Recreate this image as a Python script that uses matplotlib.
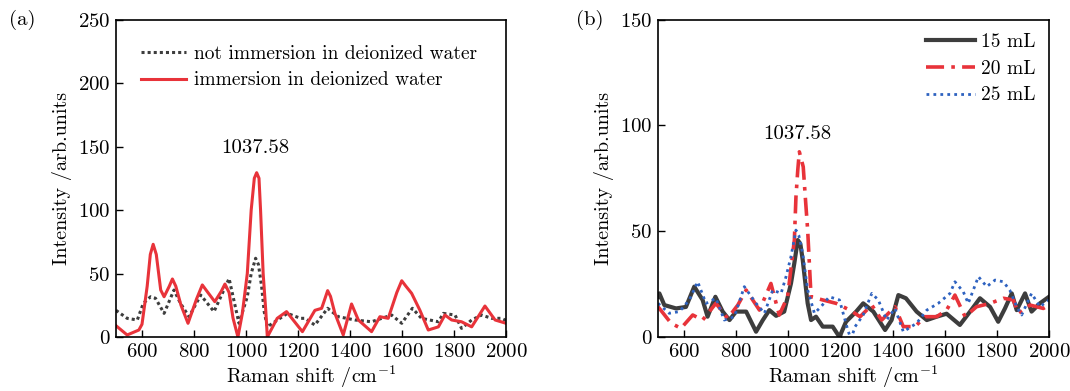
import numpy as np
import matplotlib
matplotlib.use("Agg")
import matplotlib.pyplot as plt

plt.rcParams['font.family'] = ['cmr10', 'DejaVu Serif']
plt.rcParams['mathtext.fontset'] = 'cm'
plt.rcParams['axes.formatter.use_mathtext'] = True
plt.rcParams['font.size'] = 15

# (a) spectra
xa_red = [500, 543, 588, 600, 620, 632, 643, 655, 672, 685, 705, 717, 730, 750, 777, 810,
          832, 850, 880, 905, 919, 935, 950, 969, 986, 1005, 1020, 1032, 1041, 1050, 1056,
          1066, 1076, 1082, 1120, 1156, 1217, 1265, 1291, 1300, 1314, 1325, 1342, 1374,
          1406, 1432, 1483, 1515, 1547, 1580, 1599, 1615, 1637, 1669, 1701, 1740, 1765,
          1791, 1829, 1868, 1919, 1958, 2000]
ya_red = [8.9, 1.6, 5.5, 10, 40, 65, 73, 65, 37, 31.7, 40, 45.7, 40, 25, 10.8, 30,
          41, 36, 27.8, 36, 41.7, 35, 15, 0, 18.6, 50, 100, 125, 129.4, 125, 100,
          50, 21, 0, 14.7, 20, 4.2, 21, 22.6, 28, 36.5, 32, 18.6, 1.6,
          26, 13.4, 4.2, 16, 14.7, 35, 44.3, 40, 34.4, 21, 5.5, 8, 17.3,
          13.4, 12, 8, 24.4, 13.4, 10.8]

xa_blk = [500, 543, 582, 605, 633, 652, 685, 723, 748, 781, 826, 877, 935, 973, 1005,
          1020, 1037, 1048, 1060, 1070, 1082, 1159, 1210, 1227, 1265, 1314, 1355, 1419,
          1483, 1560, 1599, 1640, 1675, 1740, 1759, 1804, 1829, 1868, 1906, 1945, 1983,
          2000]
ya_blk = [21, 14.7, 13.4, 26.5, 31.7, 30.5, 18.6, 37, 26.5, 16, 33, 20, 46, 10.8, 31.7,
          50, 62, 57, 40, 20, 8, 18.6, 14.7, 14.7, 9.4, 22.6, 16, 13.4,
          12, 17.3, 10.8, 22.6, 14.7, 12, 18.6, 17.3, 6.8, 13.4, 17.3, 14.7, 14.7,
          13]

# (b) spectra
xb_15 = [500, 505, 524, 569, 607, 639, 671, 690, 720, 748, 774, 799, 838, 876, 902, 927,
         953, 984, 1010, 1023, 1036, 1046, 1055, 1074, 1087, 1106, 1132, 1170, 1196, 1221,
         1260, 1287, 1326, 1371, 1396, 1422, 1451, 1492, 1531, 1569, 1607, 1658, 1697,
         1735, 1774, 1805, 1831, 1857, 1876, 1908, 1933, 1965, 2000]
yb_15 = [19, 20.6, 15.1, 13.5, 14.2, 23.8, 17.5, 9.6, 19, 12, 8, 12, 12, 2.5, 8, 12.7,
         10, 12, 25.3, 35, 45.8, 44, 36.4, 15.9, 8, 9.6, 4.9, 4.9, 0, 7.2,
         12, 15.9, 12, 3.3, 8, 19.8, 18.3, 12, 8, 9.6, 11, 5.7, 12,
         18.3, 14.2, 7.2, 13.5, 20.6, 12.7, 20.6, 12, 15.9, 19]

xb_20 = [500, 550, 588, 633, 671, 722, 767, 806, 838, 889, 933, 965, 997, 1023, 1029,
         1036, 1042, 1057, 1065, 1074, 1087, 1132, 1183, 1236, 1275, 1320, 1358, 1409,
         1441, 1486, 1524, 1569, 1607, 1639, 1678, 1722, 1774, 1825, 1863, 1882, 1927,
         1978, 2000]
yb_20 = [14.3, 6.5, 4.1, 10.4, 8, 15.9, 8.8, 15.1, 22.2, 12.7, 25.3, 10.4, 19, 45.8, 66,
         78.8, 87.5, 80.4, 66, 50.5, 19, 17.5, 15.9, 12.7, 9.6, 15.1, 8, 14.3,
         4.9, 4.9, 9.6, 9.6, 12.7, 19.8, 9.6, 14.3, 15.9, 18.3, 17.5, 11.2, 15.1,
         13.5, 15]

xb_25 = [500, 543, 582, 620, 652, 684, 722, 754, 793, 831, 876, 908, 940, 972, 991, 1010,
         1029, 1040, 1055, 1074, 1100, 1125, 1157, 1196, 1228, 1240, 1256, 1287, 1320,
         1345, 1377, 1409, 1441, 1492, 1531, 1575, 1620, 1639, 1671, 1690, 1729, 1761,
         1793, 1825, 1850, 1876, 1895, 1933, 1965, 2000]
yb_25 = [15.9, 11.2, 12, 17.5, 26.1, 15.9, 18.3, 8, 9.6, 23.8, 15.9, 11.2, 22.2, 20.6,
         28.5, 38, 50.5, 48, 39.5, 22.2, 11.2, 14.3, 19, 17.5, 3.3, -1, 4.9, 10.4, 20.6,
         17.5, 8, 13.5, 2.5, 6.5, 12.7, 15.9, 20.6, 26.1, 21.4, 15.9, 28.5, 23.8,
         26.9, 26.1, 22, 14.3, 10.4, 20.6, 14.3, 17.5]

red = '#e8333a'
dark = '#3d3d3d'
blue = '#2e62c0'

fig = plt.figure(figsize=(10.7, 3.91), dpi=100)
ax1 = fig.add_axes([0.1084, 0.1381, 0.3645, 0.812])
ax2 = fig.add_axes([0.615, 0.1381, 0.3654, 0.812])

ax1.plot(xa_blk, ya_blk, color=dark, ls=(0, (1, 1)), lw=2.2,
         label='not immersion in deionized water')
ax1.plot(xa_red, ya_red, color=red, lw=2.2, label='immersion in deionized water')
ax1.set_ylim(0, 250)
ax1.set_yticks([0, 50, 100, 150, 200, 250])
ax1.text(1035, 149, '1037.58', ha='center', va='center', fontsize=15)
ax1.legend(loc='upper left', frameon=False, handlelength=2.3, handletextpad=0.4,
           borderaxespad=0.9, labelspacing=0.45, fontsize=14)
fig.text(0.008, 0.95, '(a)', ha='left', va='center', fontsize=15)

ax2.plot(xb_15, yb_15, color=dark, lw=3.0, label='15 mL')
ax2.plot(xb_20, yb_20, color=red, lw=2.6, ls=(0, (5, 2, 1, 2)), label='20 mL')
ax2.plot(xb_25, yb_25, color=blue, lw=2.0, ls=(0, (1, 1.5)), label='25 mL')
ax2.set_ylim(0, 150)
ax2.set_yticks([0, 50, 100, 150])
ax2.text(1033, 96, '1037.58', ha='center', va='center', fontsize=15)
ax2.legend(loc='upper right', frameon=False, handlelength=2.5, handletextpad=0.3,
           borderaxespad=0.3, labelspacing=0.45, fontsize=14)
fig.text(0.538, 0.95, '(b)', ha='left', va='center', fontsize=15)

for ax in (ax1, ax2):
    ax.set_xlim(500, 2000)
    ax.set_xticks([600, 800, 1000, 1200, 1400, 1600, 1800, 2000])
    ax.set_xlabel(r'Raman shift /cm$^{-1}$', fontsize=14.5, labelpad=2)
    ax.set_ylabel('Intensity /arb.units', fontsize=14.5)
    ax.tick_params(direction='in', length=5, width=1, top=False, right=False, pad=4)
    for s in ax.spines.values():
        s.set_linewidth(1.2)

fig.savefig('out.png', dpi=100)
